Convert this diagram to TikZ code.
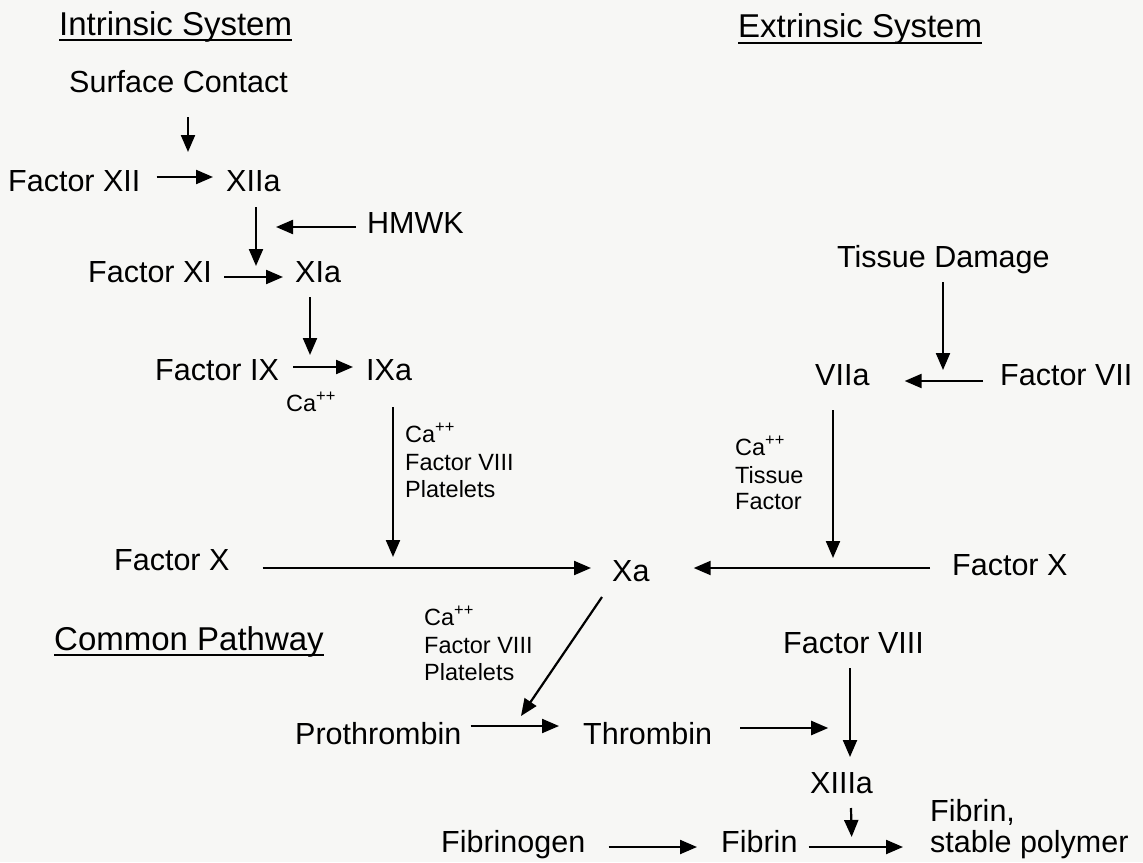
\documentclass[tikz,border=0pt]{standalone}
\usepackage{fontspec}
\setmainfont{Liberation Sans}
\usetikzlibrary{arrows.meta,calc}
\definecolor{paper}{RGB}{247,247,245}
\tikzset{
  body/.style={anchor=base west,inner sep=0pt,font=\fontsize{30.5}{36}\selectfont},
  small/.style={anchor=base west,inner sep=0pt,font=\fontsize{23.5}{28}\selectfont},
  heading/.style={anchor=base west,inner sep=0pt,font=\fontsize{33}{40}\selectfont},
  uline/.style={line width=2.2pt},
  arr/.style={line width=2.2pt,-{Triangle[length=17pt,width=14pt]}}
}
\begin{document}
\begin{tikzpicture}[x=1pt,y=-1pt]
\fill[paper] (0,0) rectangle (1143,862);
\useasboundingbox (0,0) rectangle (1143,862);

% headings
\node[heading] (intr) at (59,35) {Intrinsic System};
\node[heading] (extr) at (738,37) {Extrinsic System};
\node[heading] (comm) at (54,650) {Common Pathway};
\draw[uline] ($(intr.base west)+(0,5)$) -- ($(intr.base east)+(0,5)$);
\draw[uline] ($(extr.base west)+(0,6)$) -- ($(extr.base east)+(0,6)$);
\draw[uline] ($(comm.base west)+(0,5)$) -- ($(comm.base east)+(0,5)$);

% intrinsic
\node[body] (surf) at (69,92) {Surface Contact};
\node[body] (f12) at (8,191) {Factor XII};
\node[body] (x12a) at (226,191) {XIIa};
\node[body] (hmwk) at (367,233) {HMWK};
\node[body] (f11) at (88,282) {Factor XI};
\node[body] (x11a) at (295,282) {XIa};
\node[body] (f9) at (155,380) {Factor IX};
\node[body] (x9a) at (366,380) {IXa};
\node[small] (ca1) at (286,411) {Ca\textsuperscript{++}};
\node[small] (l1a) at (405,442) {Ca\textsuperscript{++}};
\node[small] (l1b) at (405,470) {Factor VIII};
\node[small] (l1c) at (405,497) {Platelets};
\node[body] (f10l) at (114,570) {Factor X};
\node[body] (xa) at (612,581) {Xa};

% extrinsic
\node[body] (tiss) at (837,267) {Tissue Damage};
\node[body] (x7a) at (815,385) {VIIa};
\node[body] (f7) at (1000,385) {Factor VII};
\node[small] (l2a) at (735,455) {Ca\textsuperscript{++}};
\node[small] (l2b) at (735,483) {Tissue};
\node[small] (l2c) at (735,509) {Factor};
\node[body] (f10r) at (952,575) {Factor X};

% common
\node[small] (l3a) at (424,625) {Ca\textsuperscript{++}};
\node[small] (l3b) at (424,653) {Factor VIII};
\node[small] (l3c) at (424,680) {Platelets};
\node[body] (proth) at (295,744) {Prothrombin};
\node[body] (thromb) at (583,744) {Thrombin};
\node[body] (f8) at (783,653) {Factor VIII};
\node[body] (x13a) at (810,793) {XIIIa};
\node[body] (fibgen) at (441,852) {Fibrinogen};
\node[body] (fibrin) at (721,852) {Fibrin};
\node[body] (poly1) at (930,821) {Fibrin,};
\node[body] (poly2) at (930,852) {stable polymer};

% connectors: intrinsic
\draw[arr] ($(surf.base west)+(119,25)$) -- ($(x12a.base west)+(-38,-39)$);
\draw[arr] ($(f12.base east)+(16,-14)$) -- ($(x12a.base west)+(-13,-14)$);
\draw[arr] ($(x12a.base west)+(30,16)$) -- ($(x11a.base west)+(-39,-16)$);
\draw[arr] ($(hmwk.base west)+(-11,-6)$) -- ($(x12a.base west)+(50,36)$);
\draw[arr] ($(f11.base east)+(12,-5)$) -- ($(x11a.base west)+(-12,-5)$);
\draw[arr] ($(x11a.base west)+(15,15)$) -- ($(x9a.base west)+(-56,-25)$);
\draw[arr] ($(f9.base east)+(14,-13)$) -- ($(x9a.base west)+(-13,-13)$);
\draw[arr] ($(x9a.base west)+(27,27)$) -- ($(xa.base west)+(-219,-24)$);
\draw[arr] ($(f10l.base east)+(33,-2)$) -- ($(xa.base west)+(-21,-13)$);

% connectors: extrinsic
\draw[arr] ($(tiss.base west)+(106,15)$) -- ($(f7.base west)+(-57,-15)$);
\draw[arr] ($(f7.base west)+(-17,-4)$) -- ($(x7a.base east)+(35,-4)$);
\draw[arr] ($(x7a.base west)+(18,25)$) -- ($(xa.base west)+(221,-23)$);
\draw[arr] ($(f10r.base west)+(-22,-7)$) -- ($(xa.base east)+(44,-13)$);

% connectors: common
\draw[arr] ($(xa.base west)+(-10,16)$) -- ($(thromb.base west)+(-62,-28)$);
\draw[arr] ($(proth.base east)+(9,-18)$) -- ($(thromb.base west)+(-24,-18)$);
\draw[arr] ($(thromb.base east)+(28,-16)$) -- ($(thromb.base east)+(116,-16)$);
\draw[arr] ($(f8.base west)+(67,15)$) -- ($(x13a.base west)+(40,-36)$);
\draw[arr] ($(x13a.base west)+(41,15)$) -- ($(fibrin.base east)+(54,-15)$);
\draw[arr] ($(fibgen.base east)+(23,-5)$) -- ($(fibrin.base west)+(-24,-5)$);
\draw[arr] ($(fibrin.base east)+(11,-5)$) -- ($(poly2.base west)+(-27,-5)$);
\end{tikzpicture}
\end{document}
